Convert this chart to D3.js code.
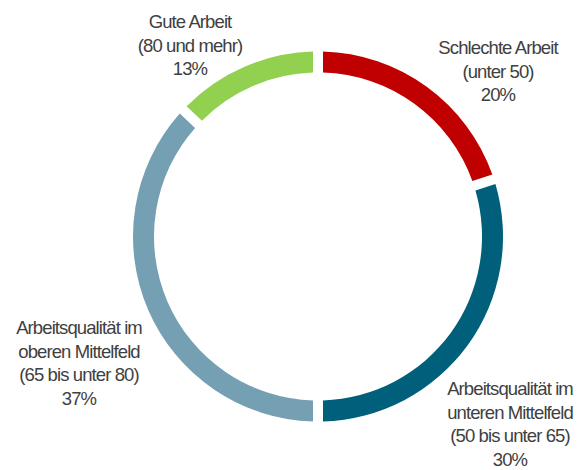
<!DOCTYPE html>
<meta charset="utf-8">
<style>
  body { margin: 0; background: #fff; }
  .lbl { font-family: "Liberation Sans", Arial, sans-serif; font-size: 18.5px; fill: #404040; letter-spacing: -0.9px; }
</style>
<svg width="586" height="470"></svg>
<script src="https://cdn.jsdelivr.net/npm/d3@7"></script>
<script>
// data
var categories = ["Schlechte Arbeit", "Arbeitsqualität im unteren Mittelfeld", "Arbeitsqualität im oberen Mittelfeld", "Gute Arbeit"];
var ranges = ["(unter 50)", "(50 bis unter 65)", "(65 bis unter 80)", "(80 und mehr)"];
var shares = [20, 30, 37, 13];
var labelLines = [
  ["Schlechte Arbeit"],
  ["Arbeitsqualität im", "unteren Mittelfeld"],
  ["Arbeitsqualität im", "oberen Mittelfeld"],
  ["Gute Arbeit"]
];
var colors = ["#c00000", "#005f7b", "#759fb2", "#92d050"];

var svg = d3.select("svg"),
    cx = 318, cy = 236.5,
    outer = 185, inner = 164;

var g = svg.append("g").attr("transform", "translate(" + cx + "," + cy + ")");

var pie = d3.pie().sort(null).value(function(d) { return d; });
var arcs = pie(shares);

var arc = d3.arc()
    .innerRadius(inner)
    .outerRadius(outer)
    .padRadius(outer)
    .padAngle(10 / outer);

g.selectAll("path")
  .data(arcs)
  .enter().append("path")
    .attr("d", arc)
    .attr("fill", function(d, i) { return colors[i]; });

// label anchors (center of first line), relative to the ring center
var labelPos = [[180, -189], [192, 152], [-239, 91], [-128, -215]];
var lineH = 23.7;

arcs.forEach(function(d, i) {
  var lines = labelLines[i].concat([ranges[i], shares[i] + "%"]);
  var t = g.append("text")
    .attr("class", "lbl")
    .attr("text-anchor", "middle")
    .attr("transform", "translate(" + labelPos[i][0] + "," + labelPos[i][1] + ")");
  lines.forEach(function(s, j) {
    t.append("tspan").attr("x", 0).attr("y", j * lineH).attr("dy", "0.35em").text(s);
  });
});
</script>
